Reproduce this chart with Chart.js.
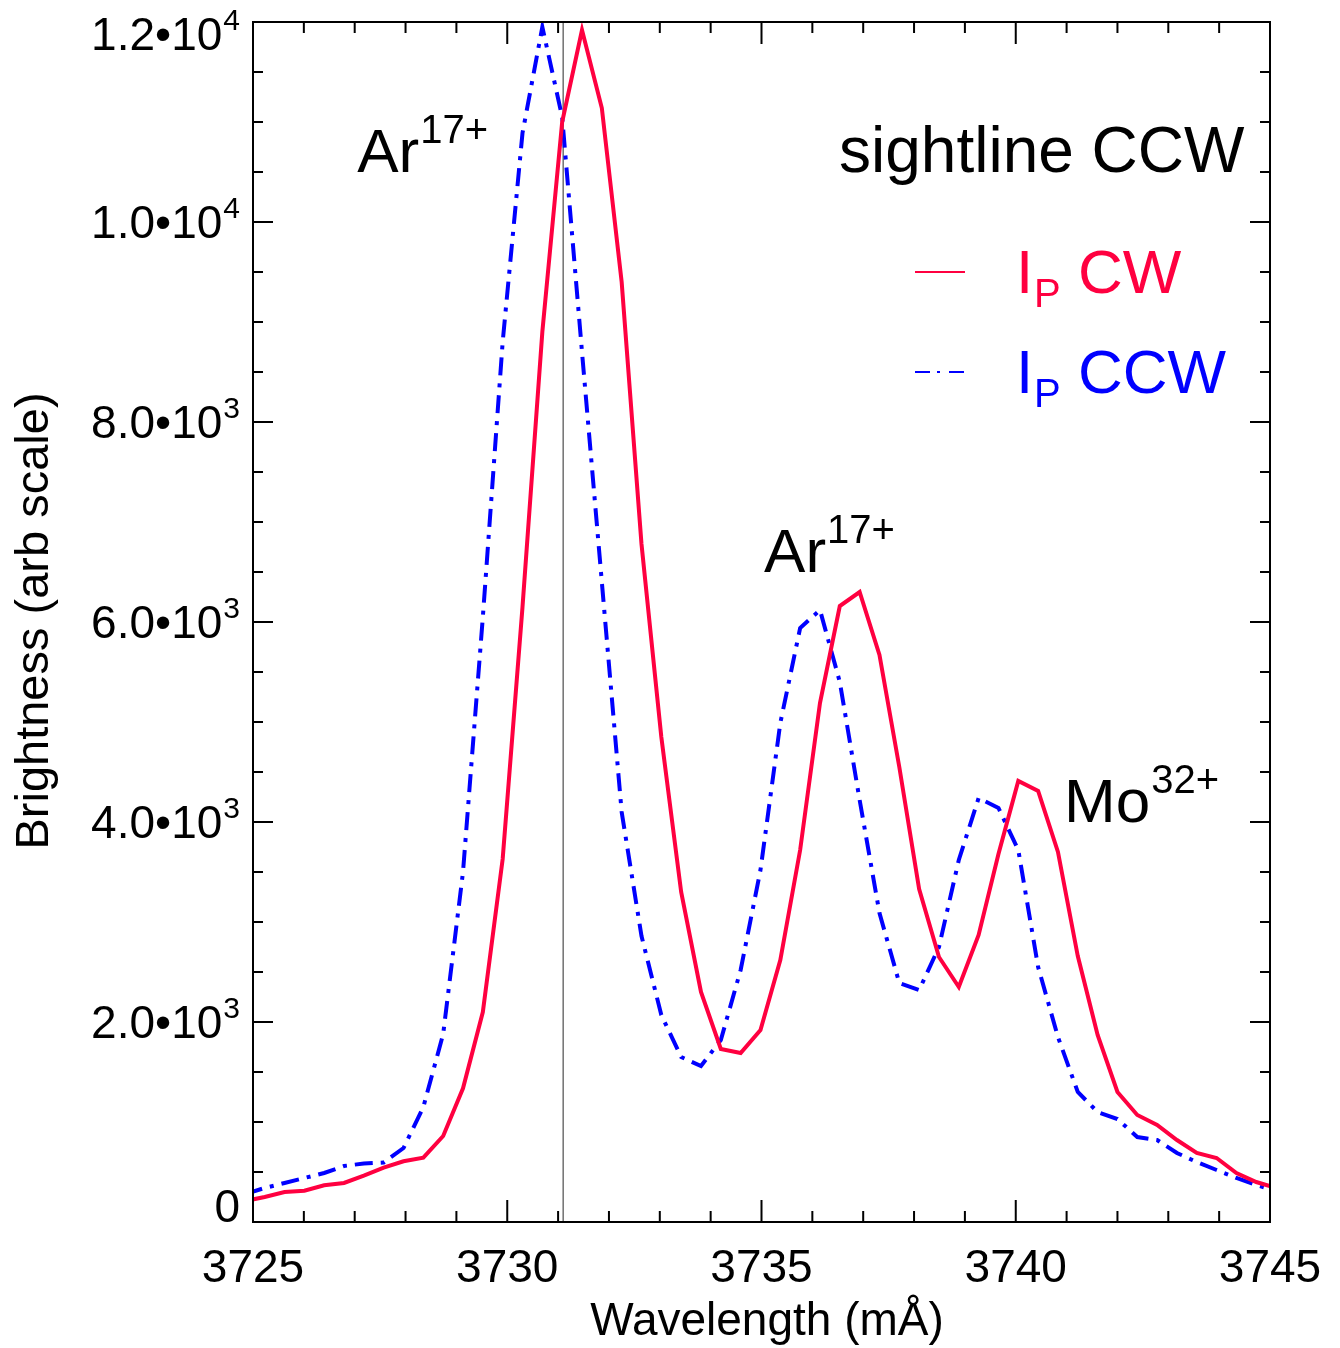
<!DOCTYPE html>
<html>
<head>
<meta charset="utf-8">
<script src="https://cdn.jsdelivr.net/npm/chart.js@4.4.1/dist/chart.umd.min.js"></script>
<style>
  html, body { margin: 0; padding: 0; background: #ffffff; }
  #wrap { width: 1340px; height: 1348px; }
</style>
</head>
<body>
<div id="wrap"><canvas id="spec" width="1340" height="1348"></canvas></div>
<script>
// Wavelength samples (mÅ), shared by both spectra
const wavelength = [3724.84, 3725.23, 3725.62, 3726.01, 3726.40, 3726.79, 3727.18, 3727.57, 3727.96, 3728.35,
  3728.74, 3729.13, 3729.52, 3729.91, 3730.30, 3730.69, 3731.08, 3731.47, 3731.86, 3732.25,
  3732.64, 3733.03, 3733.42, 3733.81, 3734.20, 3734.59, 3734.98, 3735.37, 3735.76, 3736.15,
  3736.54, 3736.93, 3737.32, 3737.71, 3738.10, 3738.49, 3738.88, 3739.27, 3739.66, 3740.05,
  3740.44, 3740.83, 3741.22, 3741.61, 3742.00, 3742.39, 3742.78, 3743.17, 3743.56, 3743.95,
  3744.34, 3744.73, 3745.12];

// Brightness, plasma current clockwise
const brightnessCW = [210, 250, 300, 313, 367, 390, 463, 543, 607, 643,
  860, 1337, 2100, 3630, 6150, 8900, 11000, 11920, 11140, 9400,
  6780, 4850, 3300, 2300, 1730, 1690, 1920, 2620, 3720, 5190,
  6160, 6300, 5670, 4550, 3330, 2650, 2350, 2870, 3680, 4410,
  4310, 3700, 2660, 1870, 1300, 1070, 970, 820, 690, 640,
  490, 400, 340];

// Brightness, plasma current counter-clockwise
const brightnessCCW = [280, 340, 390, 440, 490, 560, 585, 595, 740, 1150,
  1880, 3500, 6050, 8800, 10890, 11950, 11050, 8700, 6400, 4100,
  2860, 2070, 1650, 1560, 1820, 2520, 3520, 4990, 5940, 6120,
  5400, 4220, 3090, 2390, 2320, 2750, 3620, 4240, 4140, 3720,
  2550, 1850, 1300, 1100, 1030, 850, 820, 690, 600, 520,
  440, 370, 310];

// Axis ticks and their labels
const xTicks = [3725, 3730, 3735, 3740, 3745];
const xTickLabels = ['3725', '3730', '3735', '3740', '3745'];
const yTicks = [0, 2000, 4000, 6000, 8000, 10000, 12000];
const yTickMantissa = ['0', '2.0\u202210', '4.0\u202210', '6.0\u202210', '8.0\u202210', '1.0\u202210', '1.2\u202210'];
const yTickExponent = ['', '3', '3', '3', '3', '4', '4'];

// Reference wavelength marker and line identifications
const refWavelength = 3731.1;
const lineIds = [
  { base: 'Ar', sup: '17+', x: 3727.05, y: 10500 },
  { base: 'Ar', sup: '17+', x: 3735.05, y: 6500 },
  { base: 'Mo', sup: '32+', x: 3740.95, y: 4000 }
];

const RED = '#FF0040';
const BLUE = '#0000FF';
const FONT = '"Liberation Sans", Arial, Helvetica, sans-serif';

function toPoints(ys) {
  return ys.map((v, i) => ({ x: wavelength[i], y: v }));
}

function font(px) { return px + 'px ' + FONT; }

// Text with a raised (superscript) part
function drawSup(ctx, base, sup, x, y, baseSize, supSize, raise, color) {
  ctx.fillStyle = color;
  ctx.textAlign = 'left';
  ctx.textBaseline = 'alphabetic';
  ctx.font = font(baseSize);
  ctx.fillText(base, x, y);
  const w = ctx.measureText(base).width;
  ctx.font = font(supSize);
  ctx.fillText(sup, x + w + 1, y - raise);
}

const framePlugin = {
  id: 'frame',
  beforeDatasetsDraw(chart) {
    const { ctx, chartArea: a, scales: { x } } = chart;
    const px = x.getPixelForValue(refWavelength);
    ctx.save();
    ctx.strokeStyle = '#707070';
    ctx.lineWidth = 1.5;
    ctx.beginPath();
    ctx.moveTo(px, a.top);
    ctx.lineTo(px, a.bottom);
    ctx.stroke();
    ctx.restore();
  },
  afterDraw(chart) {
    const { ctx, chartArea: a, scales: { x, y } } = chart;
    ctx.save();
    ctx.strokeStyle = '#000';
    ctx.lineWidth = 2;
    ctx.strokeRect(a.left, a.top, a.right - a.left, a.bottom - a.top);

    // ticks on all four sides, pointing inward
    ctx.beginPath();
    for (let v = 3725; v <= 3745; v += 1) {
      const p = x.getPixelForValue(v);
      const len = (v % 5 === 0) ? 22 : 11;
      ctx.moveTo(p, a.bottom); ctx.lineTo(p, a.bottom - len);
      ctx.moveTo(p, a.top); ctx.lineTo(p, a.top + len);
    }
    for (let v = 0; v <= 12000; v += 500) {
      const p = y.getPixelForValue(v);
      const len = (v % 2000 === 0) ? 20 : 10;
      ctx.moveTo(a.left, p); ctx.lineTo(a.left + len, p);
      ctx.moveTo(a.right, p); ctx.lineTo(a.right - len, p);
    }
    ctx.stroke();

    // x tick labels
    ctx.fillStyle = '#000';
    ctx.font = font(46);
    ctx.textAlign = 'center';
    ctx.textBaseline = 'alphabetic';
    xTicks.forEach((v, i) => {
      ctx.fillText(xTickLabels[i], x.getPixelForValue(v), a.bottom + 60);
    });

    // y tick labels, right aligned with exponent
    yTicks.forEach((v, i) => {
      const p = y.getPixelForValue(v);
      let base = p + 16;
      if (v === 12000) base = p + 28;
      if (v === 0) base = p;
      const right = a.left - 13;
      ctx.font = font(30);
      const ew = yTickExponent[i] ? ctx.measureText(yTickExponent[i]).width : 0;
      ctx.textAlign = 'right';
      if (ew) ctx.fillText(yTickExponent[i], right, base - 20);
      ctx.font = font(46);
      ctx.fillText(yTickMantissa[i], right - ew - (ew ? 1 : 0), base);
    });

    // axis titles
    ctx.font = font(46);
    ctx.textAlign = 'center';
    ctx.fillText('Wavelength (m\u00C5)', 767, a.bottom + 113);
    ctx.save();
    ctx.translate(48, 621);
    ctx.rotate(-Math.PI / 2);
    ctx.font = font(47);
    ctx.fillText('Brightness (arb scale)', 0, 0);
    ctx.restore();

    // line identifications
    lineIds.forEach(l => {
      drawSup(ctx, l.base, l.sup, x.getPixelForValue(l.x), y.getPixelForValue(l.y), 62, 40, 29, '#000');
    });

    // sightline caption
    ctx.textAlign = 'left';
    ctx.font = font(64);
    ctx.fillStyle = '#000';
    ctx.fillText('sightline CCW', 839, 172);

    // legend
    const legend = [
      { color: RED, dash: [], label: 'CW', ly: 272, ty: 293 },
      { color: BLUE, dash: [15, 7, 3, 9], label: 'CCW', ly: 372, ty: 393 }
    ];
    legend.forEach(item => {
      ctx.strokeStyle = item.color;
      ctx.lineWidth = 2;
      ctx.setLineDash(item.dash);
      ctx.beginPath();
      ctx.moveTo(915, item.ly);
      ctx.lineTo(965, item.ly);
      ctx.stroke();
      ctx.setLineDash([]);
      ctx.fillStyle = item.color;
      ctx.textAlign = 'left';
      ctx.font = font(62);
      ctx.fillText('I', 1016, item.ty);
      ctx.font = font(40);
      ctx.fillText('P', 1034, item.ty + 14);
      ctx.font = font(62);
      ctx.fillText(item.label, 1078, item.ty);
    });
    ctx.restore();
  }
};

new Chart(document.getElementById('spec'), {
  type: 'scatter',
  data: {
    datasets: [
      {
        label: 'I_P CW',
        data: toPoints(brightnessCW),
        showLine: true,
        borderColor: RED,
        borderWidth: 4,
        borderJoinStyle: 'miter',
        pointRadius: 0,
        tension: 0
      },
      {
        label: 'I_P CCW',
        data: toPoints(brightnessCCW),
        showLine: true,
        borderColor: BLUE,
        borderWidth: 4,
        borderDash: [18, 8, 4, 8],
        borderJoinStyle: 'miter',
        pointRadius: 0,
        tension: 0
      }
    ]
  },
  options: {
    responsive: false,
    animation: false,
    events: [],
    layout: { padding: { left: 0, top: 22, right: 70, bottom: 0 } },
    plugins: { legend: { display: false }, tooltip: { enabled: false } },
    scales: {
      x: {
        type: 'linear', min: 3725, max: 3745,
        grid: { display: false, drawTicks: false },
        border: { display: false },
        ticks: { display: false },
        afterFit(s) { s.height = 126; }
      },
      y: {
        type: 'linear', min: 0, max: 12000,
        grid: { display: false, drawTicks: false },
        border: { display: false },
        ticks: { display: false },
        afterFit(s) { s.width = 253; }
      }
    }
  },
  plugins: [framePlugin]
});
</script>
</body>
</html>
